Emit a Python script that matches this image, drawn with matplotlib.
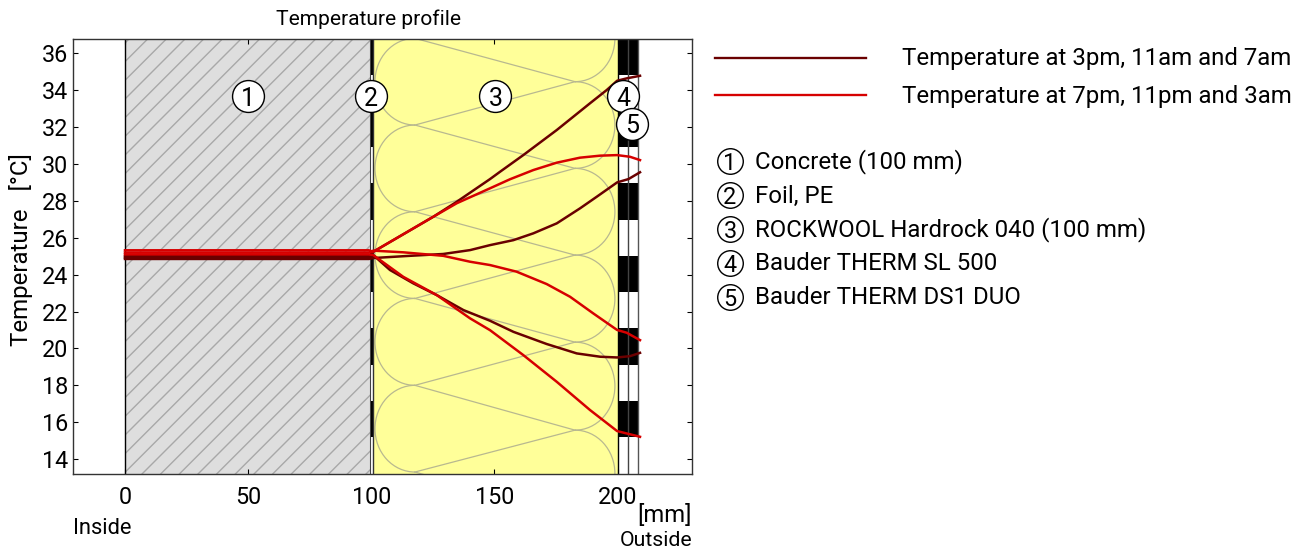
import matplotlib
matplotlib.use('Agg')
import matplotlib.pyplot as plt
from matplotlib.patches import Arc, Rectangle

plt.rcParams['font.family'] = ['Roboto', 'DejaVu Sans']
plt.rcParams['hatch.linewidth'] = 0.9
plt.rcParams['hatch.color'] = '#a8a8a8'

# layer positions [mm]
layer_edges = [0, 100, 100.8, 200, 204.2, 208.4]

# temperature profiles: position [mm], temperature [degC]
x_3pm = [0, 99, 100.8, 125.2, 134.7, 148.2, 152.3, 161.7, 175.3, 188.8, 195.6, 199.8, 203.7, 209.1]
t_3pm = [25.0, 25.0, 25.24, 27.14, 27.95, 29.18, 29.58, 30.48, 31.84, 33.29, 34.01, 34.51, 34.64, 34.78]

x_7pm = [0, 99, 100.8, 125.2, 134.7, 148.2, 156.3, 165.8, 175.3, 184.7, 192.9, 199.8, 205, 209.1]
t_7pm = [25.32, 25.32, 25.24, 27.14, 27.87, 28.68, 29.17, 29.67, 30.07, 30.34, 30.45, 30.48, 30.39, 30.21]

x_11am = [0, 99, 100.8, 114.4, 129.2, 140.1, 148.2, 157.7, 165.8, 175.3, 184.7, 191.5, 199.8, 204.4, 209.1]
t_11am = [24.85, 24.85, 24.9, 25.01, 25.12, 25.33, 25.6, 25.87, 26.24, 26.78, 27.59, 28.22, 29.0, 29.18, 29.55]

x_11pm = [0, 99, 100.8, 113, 129.2, 140.1, 148.2, 159, 171.2, 180.7, 190.1, 199.8, 203.7, 209.1]
t_11pm = [25.2, 25.2, 25.3, 25.21, 25.02, 24.7, 24.52, 24.16, 23.49, 22.8, 21.9, 21.0, 20.85, 20.45]

x_7am = [0, 99, 100.8, 107.6, 117, 126.6, 137.4, 148.2, 157.7, 171.2, 183.4, 192.9, 199.8, 205, 209.1]
t_7am = [24.92, 24.92, 25.06, 24.25, 23.53, 22.89, 22.08, 21.5, 20.9, 20.24, 19.73, 19.55, 19.51, 19.58, 19.76]

x_3am = [0, 99, 100.8, 113, 126.6, 140.1, 148.2, 161.7, 175.3, 188.8, 199.8, 203.7, 209.1]
t_3am = [25.1, 25.1, 25.06, 23.88, 22.89, 21.63, 20.99, 19.64, 18.19, 16.66, 15.52, 15.39, 15.21]

dark_series = [(x_3pm, t_3pm), (x_11am, t_11am), (x_7am, t_7am)]
red_series = [(x_7pm, t_7pm), (x_11pm, t_11pm), (x_3am, t_3am)]

# black bands of the foil and membrane symbols [degC]
band_low = [34.82, 30.92, 26.96, 23.05, 19.10, 15.19]
band_high = [36.79, 32.85, 28.97, 25.0, 21.10, 17.14]

# insulation symbol turning points
wool_x_left = 117.7
wool_x_right = 182.7
wool_rx = 16.2
wool_left = [36.81, 32.11, 27.41, 22.71, 18.0, 13.3]
wool_right = [39.16, 34.46, 29.76, 25.06, 20.34, 15.57, 10.87]

x_ticks = [0, 50, 100, 150, 200]
y_ticks = [14, 16, 18, 20, 22, 24, 26, 28, 30, 32, 34, 36]

marker_labels = ['1', '2', '3', '4', '5']
marker_x = [50, 100, 150.4, 202.2, 205.9]
marker_y = [33.68, 33.68, 33.68, 33.68, 32.17]
layer_names = ['Concrete (100 mm)', 'Foil, PE', 'ROCKWOOL Hardrock 040 (100 mm)',
               'Bauder THERM SL 500', 'Bauder THERM DS1 DUO']
legend_labels = ['Temperature at 3pm, 11am and 7am', 'Temperature at 7pm, 11pm and 3am']

DARK = '#6a0000'
RED = '#d60000'
FS = 15.45

W, H = 1307, 551
dpi = 112
fig = plt.figure(figsize=(W/dpi, H/dpi), dpi=dpi, facecolor='white')
ax = fig.add_axes([73/W, 1-473.5/H, 619/W, 434.8/H])
ax.set_xlim(-21.1, 230.2)
ax.set_ylim(13.22, 36.79)

# layers
ax.add_patch(Rectangle((0, 10), 100, 30, facecolor='#dedede', edgecolor='#a8a8a8',
                       hatch='//', linewidth=0, zorder=1))
ax.axvline(0, color='black', linewidth=0.9, zorder=2)
ax.add_patch(Rectangle((layer_edges[2], 10), layer_edges[3]-layer_edges[2], 30,
                       facecolor='#ffff99', linewidth=0, zorder=1))

# insulation symbol
wool_color = '#b8b890'
for t in wool_left:
    for t2 in wool_right:
        if abs(t-t2) < 2.5:
            ax.plot([wool_x_left, wool_x_right], [t, t2], color=wool_color, linewidth=0.8, zorder=2)
for t, t2 in zip(wool_left[:-1], wool_left[1:]):
    ax.add_patch(Arc((wool_x_left, (t+t2)/2), 2*wool_rx, t-t2, theta1=90, theta2=270,
                     color=wool_color, linewidth=0.8, zorder=2))
for t, t2 in zip(wool_right[:-1], wool_right[1:]):
    ax.add_patch(Arc((wool_x_right, (t+t2)/2), 2*wool_rx, t-t2, theta1=-90, theta2=90,
                     color=wool_color, linewidth=0.8, zorder=2))

# foil and membranes
ax.add_patch(Rectangle((99.4, 10), 1.4, 30, facecolor='white', linewidth=0, zorder=2))
for lo, hi in zip(band_low, band_high):
    ax.add_patch(Rectangle((99.4, lo), 1.5, hi-lo, facecolor='black', linewidth=0, zorder=3))
    ax.add_patch(Rectangle((layer_edges[3], lo), layer_edges[5]-layer_edges[3], hi-lo,
                           facecolor='black', linewidth=0, zorder=3))
ax.axvline(99.4, color='#444444', linewidth=0.7, zorder=3)
ax.axvline(layer_edges[2], color='#333333', linewidth=0.9, zorder=3)
ax.axvline(layer_edges[3], color='black', linewidth=0.9, zorder=3)
ax.axvline(layer_edges[4], color='#444444', linewidth=0.9, zorder=3)
ax.axvline(layer_edges[5], color='#555555', linewidth=0.9, zorder=3)

# profiles
for xs, ts in dark_series:
    ax.plot(xs, ts, color=DARK, linewidth=1.6, zorder=4, clip_on=False)
for xs, ts in red_series:
    ax.plot(xs, ts, color=RED, linewidth=1.6, zorder=4, clip_on=False)

# numbered markers
ax.scatter(marker_x, marker_y, s=420, facecolor='white', edgecolor='black', linewidth=0.9, zorder=5)
for lab, mx, my in zip(marker_labels, marker_x, marker_y):
    ax.text(mx, my, lab, ha='center', va='center_baseline', fontsize=16, zorder=6)

ax.set_xticks(x_ticks)
ax.set_yticks(y_ticks)
ax.tick_params(direction='in', length=3.5, width=0.7, top=True, right=True,
               labelsize=15, pad=8)
ax.tick_params(axis='y', pad=3)
for s in ax.spines.values():
    s.set_linewidth(0.9)
    s.set_color('#333333')
    s.set_zorder(7)

# overlay in pixel units for everything outside the plot
ov = fig.add_axes([0, 0, 1, 1], facecolor='none')
ov.set_xlim(0, W)
ov.set_ylim(H, 0)
ov.axis('off')

ov.text(369, 19, 'Temperature profile', ha='center', va='center', fontsize=13.5)
ov.text(21, 250, 'Temperature   [°C]', ha='center', va='center', rotation=90, fontsize=15.4)
ov.text(692, 515, '[mm]', ha='right', va='center', fontsize=15.3)
ov.text(692, 540, 'Outside', ha='right', va='center', fontsize=13.7)
ov.text(73, 528, 'Inside', ha='left', va='center', fontsize=14.1)

for lab, col, y in zip(legend_labels, [DARK, RED], [58, 95]):
    ov.plot([715, 866], [y, y], color=col, linewidth=1.5)
    ov.text(902, y+1, lab, ha='left', va='center', fontsize=FS)

for i, name in enumerate(layer_names):
    y = 161 + i*34
    ov.scatter([730], [y], s=270, facecolor='white', edgecolor='black', linewidth=0.9)
    ov.text(730, y, marker_labels[i], ha='center', va='center_baseline', fontsize=15)
    ov.text(755, y+1, name, ha='left', va='center', fontsize=FS)

fig.savefig('out.png', dpi=dpi)
